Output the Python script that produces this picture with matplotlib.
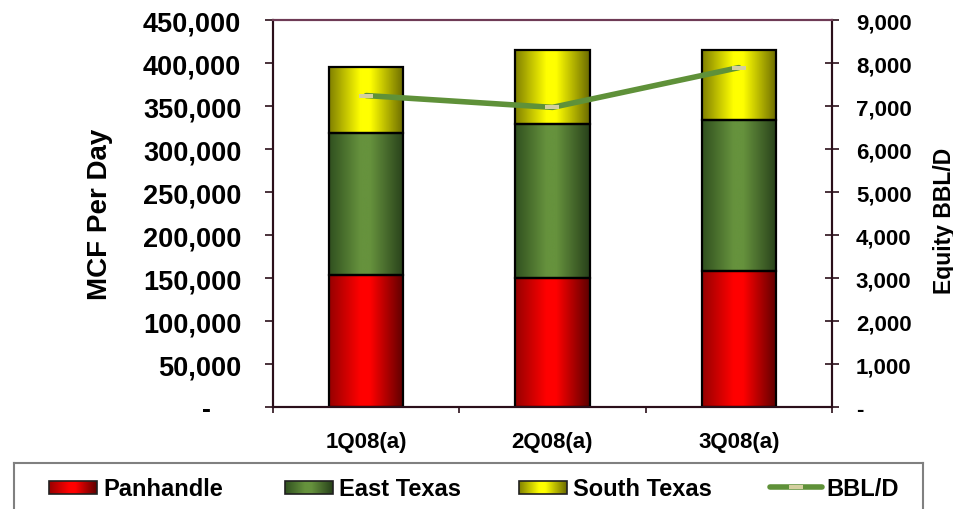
import matplotlib.pyplot as plt
import numpy as np
from matplotlib.colors import LinearSegmentedColormap
from matplotlib.ticker import FuncFormatter, MultipleLocator
from matplotlib.path import Path
from matplotlib.patches import Rectangle

plt.rcParams['font.family'] = ['Liberation Sans', 'DejaVu Sans']
plt.rcParams['font.weight'] = 'bold'

# data (MCF per day, stacked) and equity BBL/D
quarters = ['1Q08(a)', '2Q08(a)', '3Q08(a)']
panhandle = [154000, 150000, 158000]
east_texas = [165000, 179000, 176000]
south_texas = [77000, 86000, 81000]
bbl_d = [7250, 6975, 7900]

series_names = ['Panhandle', 'East Texas', 'South Texas']
line_name = 'BBL/D'

# gradient colormaps (dark edge -> bright middle -> dark edge)
def make_cmap(name, dark1, bright, dark2):
    return LinearSegmentedColormap.from_list(
        name, [(0, dark1), (0.42, bright), (0.55, bright), (1, dark2)])

cmaps = [
    make_cmap('red', '#960000', '#ff0000', '#5c0000'),
    make_cmap('green', '#30501f', '#66923d', '#27401a'),
    make_cmap('yellow', '#808000', '#ffff00', '#6a6a00'),
]
line_color = '#5f9139'
marker_color = '#d4cf9f'
spine_dark = '#2b0f1a'
spine_top = '#6e3b55'

grad = np.linspace(0, 1, 256).reshape(1, -1)


def gradient_fill(axis, rect, cmap):
    x0, y0 = rect.get_xy()
    w, h = rect.get_width(), rect.get_height()
    axis.imshow(grad, cmap=cmap, extent=[x0, x0 + w, y0, y0 + h],
                aspect='auto', origin='lower', interpolation='bicubic', zorder=2)


fig = plt.figure(figsize=(9.54, 5.10), dpi=100)
ax = fig.add_axes([273 / 954, 1 - 408.3 / 510, 559 / 954, 387 / 510])
ax2 = ax.twinx()

x = np.arange(len(quarters))
bottom = np.zeros(len(quarters))
for vals, cmap in zip([panhandle, east_texas, south_texas], cmaps):
    bars = ax.bar(x, vals, bottom=bottom, width=0.4, facecolor='none',
                  edgecolor='black', linewidth=1.6, zorder=3)
    for b in bars:
        gradient_fill(ax, b, cmap)
    bottom += np.array(vals)

# line with small flat rectangular markers
rect_marker = Path([(-1.5, -0.5), (1.5, -0.5), (1.5, 0.5), (-1.5, 0.5), (-1.5, -0.5)],
                   [Path.MOVETO, Path.LINETO, Path.LINETO, Path.LINETO, Path.CLOSEPOLY])
ax2.plot(x, bbl_d, color=line_color, lw=4, solid_capstyle='round',
         marker=rect_marker, markersize=10, markerfacecolor=marker_color,
         markeredgewidth=0, zorder=5)

ax.set_xlim(-0.5, 2.5)
ax.set_ylim(0, 450000)
ax2.set_ylim(0, 9000)
ax.yaxis.set_major_locator(MultipleLocator(50000))
ax2.yaxis.set_major_locator(MultipleLocator(1000))

ax.yaxis.set_major_formatter(FuncFormatter(lambda v, p: '-    ' if v == 0 else f'{v:,.0f}'))
ax2.yaxis.set_major_formatter(FuncFormatter(lambda v, p: '-' if v == 0 else f'{v:,.0f}'))

ax.set_xticks([-0.5, 0.5, 1.5, 2.5])
ax.set_xticks(x, minor=True)
ax.set_xticklabels(quarters, minor=True)
ax.tick_params(axis='x', which='major', labelbottom=False, direction='out',
               length=4.5, width=1.2, color=spine_dark)
ax.tick_params(axis='x', which='minor', length=0, pad=17, labelsize=16)
ax.tick_params(axis='y', direction='out', length=5.8, width=1.2, pad=17,
               labelsize=19.5, color=spine_dark)
ax2.tick_params(axis='y', direction='inout', length=9.4, width=1.2, pad=12.5,
                labelsize=16, color=spine_dark)

for a in (ax, ax2):
    for side in ('left', 'right', 'bottom'):
        a.spines[side].set_color(spine_dark)
        a.spines[side].set_linewidth(1.5)
    a.spines['top'].set_color(spine_top)
    a.spines['top'].set_linewidth(1.5)

ax.set_ylabel('MCF Per Day', fontsize=20, fontweight='bold')
ax.yaxis.set_label_coords(-0.287, 0.5)
ax2.set_ylabel('Equity BBL/D', fontsize=16.5, fontweight='bold')
ax2.yaxis.set_label_coords(1.18, 0.484)

# legend box along the bottom
leg = fig.add_axes([14 / 954, -0.1, 909 / 954, 46 / 510 + 0.1])
leg.set_xticks([])
leg.set_yticks([])
for s in leg.spines.values():
    s.set_color('#808080')
    s.set_linewidth(1.5)

patch_x = [49, 285, 519]
for px, name, cmap in zip(patch_x, series_names, cmaps):
    leg.imshow(grad, cmap=cmap, extent=[px, px + 48, 481.5, 494.5],
               aspect='auto', origin='lower', interpolation='bicubic')
    leg.add_patch(Rectangle((px, 481.5), 48, 13, fill=False,
                            edgecolor='#202020', lw=1.2))
    leg.text(px + 54, 489, name, fontsize=17, fontweight='bold', va='center', ha='left')

leg.plot([770, 822], [488, 488], color=line_color, lw=4, solid_capstyle='round')
leg.plot([796], [488], marker=rect_marker, markersize=10, color=marker_color,
         markeredgewidth=0)
leg.text(826, 489, line_name, fontsize=17, fontweight='bold', va='center', ha='left')
leg.set_xlim(14, 923)
leg.set_ylim(561, 464)

fig.savefig('out.png', dpi=100)
